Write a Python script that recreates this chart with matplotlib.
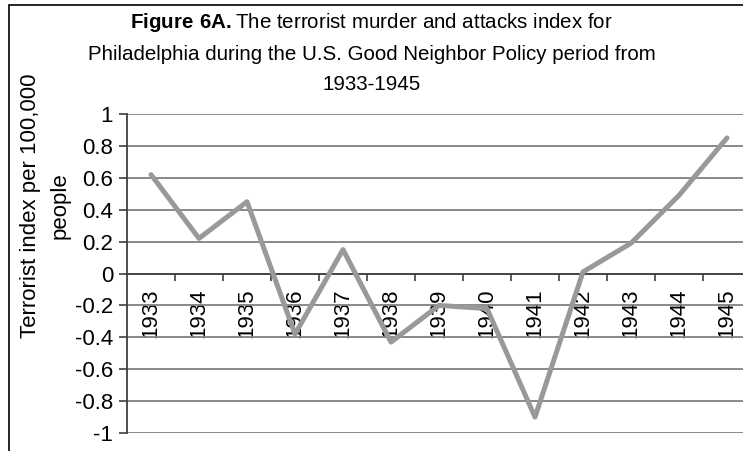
import matplotlib.pyplot as plt
import numpy as np
from matplotlib.patches import Rectangle
from matplotlib.ticker import FixedLocator

plt.rcParams['font.family'] = ['Liberation Sans', 'DejaVu Sans']
plt.rcParams['mathtext.fontset'] = 'custom'
plt.rcParams['mathtext.bf'] = 'Liberation Sans:bold'
plt.rcParams['mathtext.rm'] = 'Liberation Sans'

years = ['1933', '1934', '1935', '1936', '1937', '1938', '1939',
         '1940', '1941', '1942', '1943', '1944', '1945']
index_values = [0.62, 0.22, 0.45, -0.38, 0.15, -0.43, -0.20,
                -0.22, -0.90, 0.01, 0.19, 0.49, 0.85]
y_ticks = [-1, -0.8, -0.6, -0.4, -0.2, 0, 0.2, 0.4, 0.6, 0.8, 1]
y_tick_labels = ['-1', '-0.8', '-0.6', '-0.4', '-0.2', '0', '0.2', '0.4', '0.6', '0.8', '1']

W, H = 743, 451
fig = plt.figure(figsize=(W / 100, H / 100), dpi=100)

# outer chart border (right and bottom edges fall outside the picture)
fig.patches.append(Rectangle((9 / W, -0.1), 1.2, 1.1 - 5 / H, transform=fig.transFigure,
                             facecolor='none', edgecolor='black', linewidth=1.2, zorder=-1))

ax = fig.add_axes([127 / W, (H - 433) / H, 624 / W, (433 - 114) / H])
ax.set_facecolor('none')

x = np.arange(len(years))
ax.plot(x, index_values, color='#999999', linewidth=3.6, solid_capstyle='round',
        solid_joinstyle='round', zorder=3)

ax.set_xlim(-0.5, len(years) - 0.5)
ax.set_ylim(-1, 1)

ax.set_yticks(y_ticks)
ax.set_yticklabels(y_tick_labels)
ax.yaxis.grid(True, color='#808080', linewidth=1.3)
ax.set_axisbelow(True)

ax.xaxis.set_major_locator(FixedLocator(np.arange(0.5, len(years) - 0.5)))
ax.xaxis.set_major_formatter(plt.NullFormatter())
ax.set_xticks(x, minor=True)
ax.set_xticklabels(years, minor=True)
ax.tick_params(axis='x', which='major', direction='out', length=5, width=1.2, color='#404040')
ax.tick_params(axis='x', which='minor', length=0, pad=11, labelrotation=90, labelsize=16)
ax.tick_params(axis='y', direction='out', length=6, width=1.2, color='#404040',
               labelsize=16, pad=4)

ax.spines['bottom'].set_position(('data', 0))
ax.spines['bottom'].set_color('#404040')
ax.spines['bottom'].set_linewidth(1.3)
ax.spines['left'].set_color('#404040')
ax.spines['left'].set_linewidth(1.3)
ax.spines['top'].set_visible(False)
ax.spines['right'].set_visible(False)

fig.text(0.5, 1 - 22 / H,
         r'$\bf{Figure\ 6A.}$The terrorist murder and attacks index for',
         ha='center', va='center', fontsize=14.8)
fig.text(0.5, 1 - 54 / H,
         'Philadelphia during the U.S. Good Neighbor Policy period from',
         ha='center', va='center', fontsize=14.8)
fig.text(0.5, 1 - 85 / H, '1933-1945', ha='center', va='center', fontsize=14.8)

fig.text(45 / W, 1 - 206 / H, 'Terrorist index per 100,000\npeople', rotation=90,
         ha='center', va='center', multialignment='center', fontsize=16, linespacing=1.55)

fig.savefig('out.png', dpi=100)
